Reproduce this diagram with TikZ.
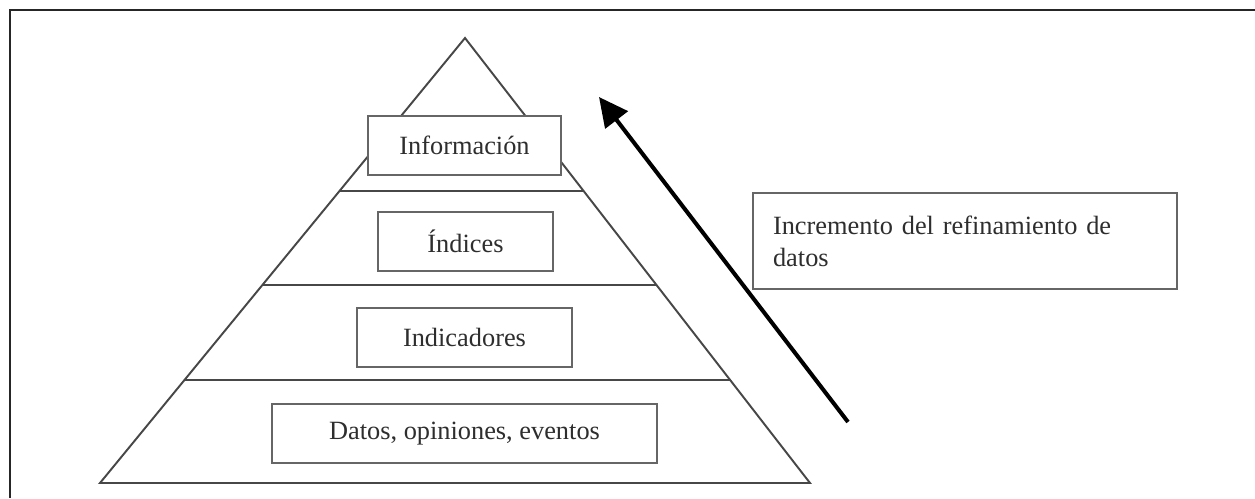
\documentclass[tikz,border=0pt]{standalone}
\usepackage{fontspec}
\setmainfont{Liberation Serif}
\usetikzlibrary{arrows.meta,calc}
\tikzset{
  linea/.style={black!72,line width=1.1pt},
  nivel/.style={draw=black!60,line width=1.2pt,fill=white,minimum height=1.18cm,
    inner sep=0pt,text=black!82,font=\fontsize{15}{18.2}\selectfont},
}
\begin{document}
\begin{tikzpicture}[x=0.02cm,y=-0.02cm]
            \useasboundingbox (0,0) rectangle (1255,498);
            \draw[black!85,line width=1.1pt] (1255,10) -- (10,10) -- (10,498);

            \coordinate (cima) at (465,38);
            \coordinate (izq) at (100,483);
            \coordinate (der) at (810,483);
            \draw[linea] (cima) -- (izq) -- (der) -- cycle;
            \foreach \t in {0.344,0.555,0.7685}
              \draw[linea] ($(cima)!\t!(izq)$) -- ($(cima)!\t!(der)$);

            \node[nivel,minimum width=3.86cm] (info) at (464.5,145.5) {Información};
            \node[nivel,minimum width=3.5cm] (indices) at (465.5,241.5) {Índices};
            \node[nivel,minimum width=4.3cm] (indic) at (464.5,337.5) {Indicadores};
            \node[nivel,minimum width=7.7cm] (datos) at (464.5,433.5) {Datos, opiniones, eventos};

            \node[nivel,minimum width=8.48cm,minimum height=1.92cm,text width=7.68cm,
              inner xsep=0.4cm,align=left] (refino) at (965,241)
              {Incremento del refinamiento de\\datos};

            \coordinate (flecha ini) at (848,422);
            \coordinate (flecha fin) at (599,97);
            \draw[line width=2.3pt,-{Triangle[length=0.58cm,width=0.56cm]}] (flecha ini) -- (flecha fin);
\end{tikzpicture}
\end{document}
